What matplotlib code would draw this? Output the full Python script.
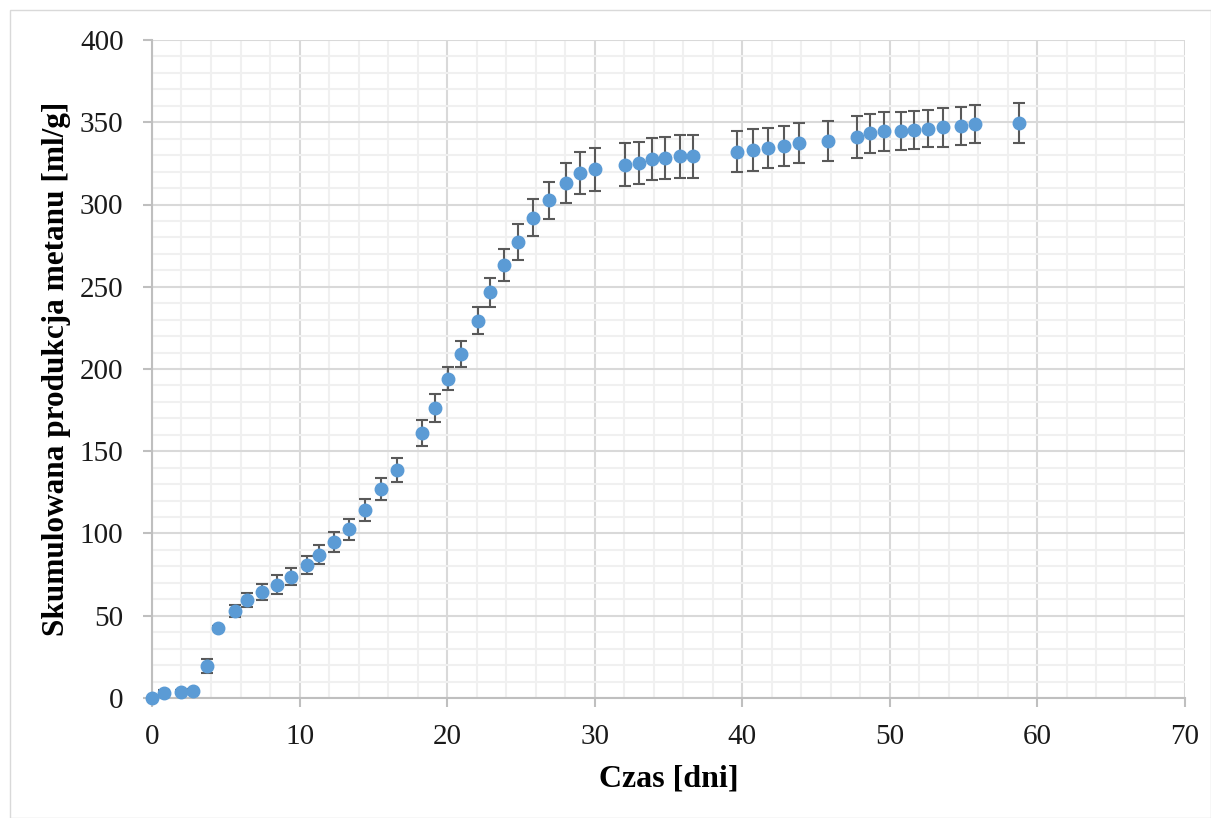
import matplotlib
matplotlib.use("Agg")
import matplotlib.pyplot as plt
from matplotlib.ticker import MultipleLocator
from matplotlib.patches import Rectangle


# Data
czas = [0, 0.8, 2.0, 2.8, 3.7, 4.5, 5.65, 6.47, 7.45, 8.45, 9.4, 10.5, 11.35, 12.33,
        13.32, 14.45, 15.5, 16.6, 18.3, 19.2, 20.08, 20.94, 22.07, 22.9, 23.85, 24.8,
        25.84, 26.9, 28.03, 29.0, 30.04, 32.03, 33.02, 33.9, 34.78, 35.78, 36.68,
        39.67, 40.7, 41.76, 42.8, 43.84, 45.8, 47.75, 48.65, 49.62, 50.75, 51.61,
        52.62, 53.62, 54.82, 55.77, 58.77]
metan = [0, 3.3, 3.7, 4.5, 19.5, 42.6, 53.1, 59.6, 64.4, 68.9, 73.7, 80.6, 87.1, 94.8,
         102.5, 114.3, 127, 138.6, 161, 176, 194.1, 209.1, 229.4, 246.6, 263, 277.2,
         292, 302.5, 313, 318.9, 321.3, 324.3, 325.2, 327.7, 328.3, 329.3, 329.3,
         332, 333.1, 334.3, 335.6, 337.2, 338.8, 341, 343.2, 344.4, 344.9, 345.1,
         346.1, 346.9, 347.5, 349.1, 349.5]
blad = [0, 1.5, 1, 1, 4.4, 1, 3.6, 4.4, 5, 5.7, 5.3, 5.5, 5.7, 6, 6.3, 6.5, 6.8, 7.3,
        8, 8.5, 6.9, 7.7, 8.3, 8.9, 9.7, 10.9, 11.3, 11.1, 12, 12.8, 13, 13, 12.8,
        12.6, 13, 13, 13, 12.4, 12.6, 12.4, 12.4, 12.2, 12.2, 12.8, 11.7, 11.6,
        11.6, 11.5, 11.4, 11.7, 11.6, 11.6, 12]

plt.rcParams["font.family"] = ["Liberation Serif", "DejaVu Serif"]

fig = plt.figure(figsize=(12.11, 8.18), dpi=100)
ax = fig.add_axes([0.1255, 0.1467, 0.853, 0.8044])

ax.errorbar(czas, metan, yerr=blad, fmt="o", color="#5B9BD5", markersize=9,
            markeredgecolor="#5B9BD5", ecolor="#595959", elinewidth=1.5,
            capsize=4, capthick=1.5, clip_on=False, zorder=3)

ax.set_xlim(0, 70)
ax.set_ylim(0, 400)
ax.xaxis.set_major_locator(MultipleLocator(10))
ax.xaxis.set_minor_locator(MultipleLocator(2))
ax.yaxis.set_major_locator(MultipleLocator(50))
ax.yaxis.set_minor_locator(MultipleLocator(10))

ax.grid(True, which="major", color="#D9D9D9", linewidth=1.5)
ax.grid(True, which="minor", color="#F0F0F0", linewidth=1.5)
ax.set_axisbelow(True)

for s in ["top", "right"]:
    ax.spines[s].set_visible(False)
for s in ["left", "bottom"]:
    ax.spines[s].set_color("#BFBFBF")
    ax.spines[s].set_linewidth(1.5)

ax.tick_params(which="major", length=6.5, width=1.5, color="#BFBFBF",
               labelsize=21, labelcolor="#1a1a1a")
ax.tick_params(axis="x", pad=12)
ax.tick_params(axis="y", pad=14)
ax.tick_params(which="minor", length=0)

ax.set_xlabel("Czas [dni]", fontsize=23, fontweight="bold", labelpad=11)
ax.set_ylabel("Skumulowana produkcja metanu [ml/g]", fontsize=22.5,
              fontweight="bold", labelpad=6)

fig.patches.append(Rectangle((0.008, 0.0), 0.992, 0.988, transform=fig.transFigure,
                             fill=False, edgecolor="#D9D9D9", linewidth=1))

fig.savefig("out.png", dpi=100)
